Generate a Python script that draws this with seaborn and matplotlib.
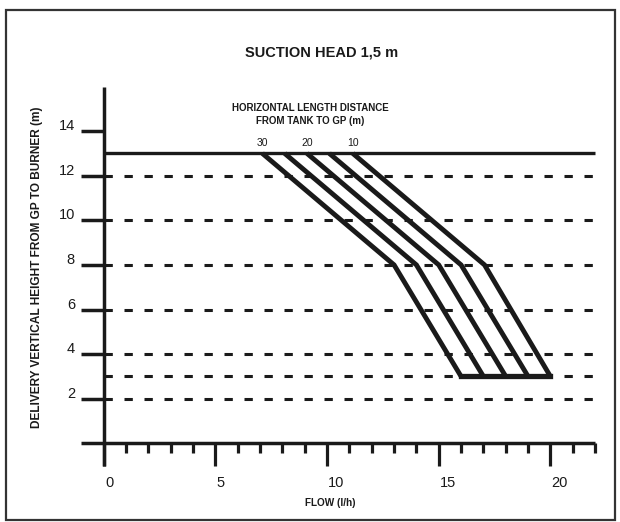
import matplotlib
matplotlib.use("Agg")
import matplotlib.pyplot as plt
import seaborn as sns
import pandas as pd
from matplotlib import font_manager
from matplotlib.patches import Rectangle

# ---------------- data ----------------
title = "SUCTION HEAD 1,5 m"
x_label = "FLOW (l/h)"
y_label = "DELIVERY VERTICAL HEIGHT FROM GP TO BURNER (m)"
curve_title = "HORIZONTAL LENGTH DISTANCE\nFROM TANK TO GP (m)"

distances = [30, 25, 20, 15, 10]
distance_labels = ["30", "", "20", "", "10"]
heights = [13, 8, 3]
flow_at_13 = [7.1, 8.1, 9.1, 10.1, 11.15]
flow_at_8 = [13.0, 14.0, 15.0, 16.0, 17.05]
flow_at_3 = [16.0, 17.0, 18.0, 19.0, 20.0]

x_major_ticks = [0, 5, 10, 15, 20]
x_minor_ticks = [1, 2, 3, 4, 6, 7, 8, 9, 11, 12, 13, 14, 16, 17, 18, 19, 21, 22]
y_ticks = [2, 4, 6, 8, 10, 12, 14]
grid_levels = [2, 3, 4, 6, 8, 10, 12]
max_height = 13
x_max = 22
y_max = 16

# ---------------- style ----------------
plt.rcParams["lines.scale_dashes"] = False
sns.set_style("white")
names = {f.name for f in font_manager.fontManager.ttflist}
base = "Liberation Sans" if "Liberation Sans" in names else "DejaVu Sans"
narrow = "Liberation Sans Narrow" if "Liberation Sans Narrow" in names else None
plt.rcParams["font.family"] = [base, "DejaVu Sans"]
INK = "#1a1a1a"

W, H = 620, 522
fig = plt.figure(figsize=(W / 100, H / 100), dpi=100)
ax = fig.add_axes([0, 0, 1, 1])
ax.set_axis_off()

# pixel mapping: x0=103.8 px, 22.33 px/unit ; y0=443.3 px, 22.3 px/unit
px_x, x0 = 22.33, 103.8
px_y, y0 = 22.3, 443.3
ax.set_xlim((0 - x0) / px_x, (W - x0) / px_x)
ax.set_ylim((y0 - H) / px_y, y0 / px_y)

# outer frame
fig.patches.append(Rectangle((6 / W, 1 - 520 / H), 609 / W, 510 / H,
                             transform=fig.transFigure, fill=False,
                             edgecolor="#333333", linewidth=1.6))

# dashed levels
for lv in grid_levels:
    ax.plot([0, x_max], [lv, lv], color=INK, lw=2.2, dashes=(6.0, 8.4),
            solid_capstyle="butt", dash_capstyle="butt")
# max height solid line
ax.plot([0, x_max], [max_height, max_height], color=INK, lw=2.4,
        solid_capstyle="butt")

# axes lines
ax.plot([-1, x_max], [0, 0], color=INK, lw=2.5, solid_capstyle="butt")
ax.plot([0, 0], [-1, y_max], color=INK, lw=2.5, solid_capstyle="butt")
for t in x_major_ticks:
    ax.plot([t, t], [0, -1], color=INK, lw=2.3, solid_capstyle="butt")
for t in x_minor_ticks:
    ax.plot([t, t], [0, -0.45], color=INK, lw=2.3, solid_capstyle="butt")
for t in y_ticks:
    ax.plot([-1, 0], [t, t], color=INK, lw=2.5, solid_capstyle="butt")

# curves
rows = []
for d, a, b, c in zip(distances, flow_at_13, flow_at_8, flow_at_3):
    for order, (f, h) in enumerate(zip([a, b, c], heights)):
        rows.append({"distance": d, "order": order, "flow": f, "height": h})
df = pd.DataFrame(rows)
sns.lineplot(data=df, x="flow", y="height", units="distance", estimator=None,
             sort=False, color=INK, lw=3.5, ax=ax, legend=False,
             solid_joinstyle="miter", solid_capstyle="butt")
sns.lineplot(x=flow_at_3, y=[heights[-1]] * len(flow_at_3), estimator=None,
             sort=False, color=INK, lw=3.8, ax=ax, legend=False,
             solid_capstyle="projecting")
ax.set_xlabel("")
ax.set_ylabel("")
ax.set_axis_off()

# labels for curves
for f, lab in zip(flow_at_13, distance_labels):
    if lab:
        ax.text(f, max_height + 0.45, lab, ha="center", va="center",
                fontsize=7.5, color=INK)
if narrow:
    ax.text(9.23, 14.75, curve_title, ha="center", va="center",
            fontsize=8.5, fontweight="bold", color=INK, family=narrow,
            linespacing=1.05)
else:
    ax.text(9.23, 14.75, curve_title, ha="center", va="center",
            fontsize=7.0, fontweight="bold", color=INK, linespacing=1.3)

# tick labels
for t in x_major_ticks:
    ax.text(t + 0.05, -1.79, str(t), ha="left", va="center", fontsize=10.5,
            color=INK)
for t in y_ticks:
    ax.text(-1.29, t + 0.22, str(t), ha="right", va="center", fontsize=10.5,
            color=INK)

# axis titles
ax.text(10.13, -2.69, x_label, ha="center", va="center", fontsize=7.2,
        fontweight="bold", color=INK)
ax.text((37 - x0) / px_x, 7.9, y_label, ha="center", va="center",
        rotation=90, fontsize=8.6, fontweight="bold", color=INK)
ax.text((322 - x0) / px_x, (y0 - 52) / px_y, title, ha="center", va="center",
        fontsize=10.5, fontweight="bold", color=INK)

fig.savefig("out.png", dpi=100)
